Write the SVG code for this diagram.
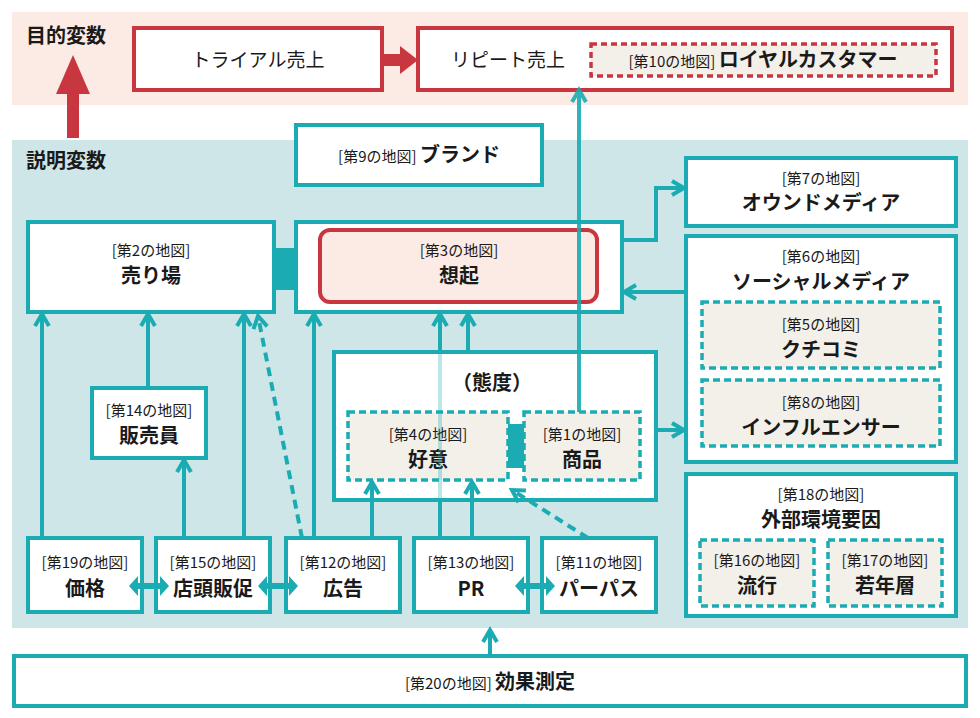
<svg xmlns="http://www.w3.org/2000/svg" width="980" height="718" viewBox="0 0 980 718">
<defs>
<style>
text{font-family:"Noto Sans CJK JP","Noto Sans",sans-serif;text-anchor:middle;fill:#1a1a1a}
.s{font-size:15px}
.b{font-size:20px;font-weight:bold}
.h{font-size:20px;font-weight:bold;text-anchor:start}
.n{fill:#fff;stroke:#1aacb2;stroke-width:4}
.d{fill:#f3f0ea;stroke:#1aacb2;stroke-width:3.5;stroke-dasharray:7 4}
.r{fill:#fff;stroke:#c8363f;stroke-width:4}
.c{fill:none;stroke:#1aacb2;stroke-width:4}
.cd{fill:none;stroke:#1aacb2;stroke-width:4;stroke-dasharray:9 6}
</style>
<marker id="a" viewBox="0 0 16 16" refX="14" refY="8" markerWidth="16" markerHeight="16" markerUnits="userSpaceOnUse" orient="auto" overflow="visible">
<path d="M2 1 L14 8 L2 15" fill="none" stroke="#1aacb2" stroke-width="4"/>
</marker>
<path id="dbl" d="M-20 0 L-11 -10 V-3 H11 V-10 L20 0 L11 10 V3 H-11 V10Z" fill="#1aacb2"/>
</defs>
<rect x="12" y="12" width="956" height="93" fill="#fcebe5"/>
<rect x="12" y="140" width="956" height="488" fill="#cfe6e8"/>
<text class="h" x="26" y="43">目的変数</text>
<text class="h" x="26" y="168">説明変数</text>
<g id="trial"><rect class="r" x="134" y="28" width="248" height="62"/><text x="258" y="67" style="font-size:19px">トライアル売上</text></g>
<g id="repeat"><rect class="r" x="418" y="28" width="534" height="62"/><text x="508" y="67" style="font-size:19px">リピート売上</text>
<rect x="591" y="44" width="345" height="32" fill="#f3f0ea" stroke="#c8363f" stroke-width="3.5" stroke-dasharray="6 4"/>
<text x="763" y="67"><tspan class="s">[第10の地図] </tspan><tspan class="b">ロイヤルカスタマー</tspan></text></g>
<g id="redarrows" fill="#c8363f">
<rect x="382" y="54" width="20" height="12"/><path d="M400 46 L418 60 L400 74Z"/>
<rect x="67" y="92" width="12" height="46"/><path d="M56 94 L73 55 L90 94Z"/>
</g>
<g id="brand"><rect class="n" x="296" y="125" width="246" height="60"/><text x="419" y="162"><tspan class="s">[第9の地図] </tspan><tspan class="b">ブランド</tspan></text></g>
<g id="owned"><rect class="n" x="686" y="158" width="270" height="68"/><text class="s" x="821" y="184">[第7の地図]</text><text class="b" x="821" y="210">オウンドメディア</text></g>
<g id="uriba"><rect class="n" x="28" y="222" width="246" height="90"/><text class="s" x="151" y="256">[第2の地図]</text><text class="b" x="151" y="283">売り場</text></g>
<g id="souki"><rect class="n" x="296" y="222" width="326" height="90"/><rect x="320" y="230" width="277" height="72" rx="10" fill="#fbebe4" stroke="#c8363f" stroke-width="4"/><text class="s" x="459" y="256">[第3の地図]</text><text class="b" x="459" y="283">想起</text></g>
<rect x="274" y="248" width="22" height="42" fill="#1aacb2"/>
<g id="social"><rect class="n" x="686" y="236" width="270" height="226"/><text class="s" x="821" y="262">[第6の地図]</text><text class="b" x="821" y="289">ソーシャルメディア</text>
<rect class="d" x="702" y="302" width="238" height="66"/><text class="s" x="821" y="330">[第5の地図]</text><text class="b" x="821" y="357">クチコミ</text>
<rect class="d" x="702" y="380" width="238" height="66"/><text class="s" x="821" y="408">[第8の地図]</text><text class="b" x="821" y="435">インフルエンサー</text></g>
<g id="taido"><rect class="n" x="334" y="352" width="322" height="148"/><text class="b" x="492" y="390">（態度）</text>
<rect class="d" x="348" y="412" width="160" height="68"/><text class="s" x="428" y="440">[第4の地図]</text><text class="b" x="428" y="467">好意</text>
<rect class="d" x="524" y="412" width="116" height="68"/><text class="s" x="582" y="440">[第1の地図]</text><text class="b" x="582" y="467">商品</text>
<rect x="508" y="424" width="16" height="44" fill="#1aacb2"/></g>
<g id="hanbai"><rect class="n" x="92" y="388" width="114" height="70"/><text class="s" x="149" y="416">[第14の地図]</text><text class="b" x="149" y="443">販売員</text></g>
<g id="kakaku"><rect class="n" x="28" y="538" width="114" height="74"/><text class="s" x="85" y="568">[第19の地図]</text><text class="b" x="85" y="596">価格</text></g>
<g id="tento"><rect class="n" x="156" y="538" width="114" height="74"/><text class="s" x="213" y="568">[第15の地図]</text><text class="b" x="213" y="596">店頭販促</text></g>
<g id="koukoku"><rect class="n" x="286" y="538" width="114" height="74"/><text class="s" x="343" y="568">[第12の地図]</text><text class="b" x="343" y="596">広告</text></g>
<g id="pr"><rect class="n" x="414" y="538" width="114" height="74"/><text class="s" x="471" y="568">[第13の地図]</text><text class="b" x="471" y="596">PR</text></g>
<g id="purpose"><rect class="n" x="542" y="538" width="114" height="74"/><text class="s" x="599" y="568">[第11の地図]</text><text class="b" x="599" y="596">パーパス</text></g>
<g id="gaibu"><rect class="n" x="686" y="474" width="270" height="142"/><text class="s" x="821" y="500">[第18の地図]</text><text class="b" x="821" y="527">外部環境要因</text>
<rect class="d" x="700" y="540" width="114" height="66"/><text class="s" x="757" y="566">[第16の地図]</text><text class="b" x="757" y="593">流行</text>
<rect class="d" x="828" y="540" width="114" height="66"/><text class="s" x="885" y="566">[第17の地図]</text><text class="b" x="885" y="593">若年層</text></g>
<g id="kouka"><rect class="n" x="14" y="656" width="952" height="50"/><text x="490" y="689"><tspan class="s">[第20の地図] </tspan><tspan class="b">効果測定</tspan></text></g>
<g id="connectors">
<path class="c" d="M579 412 V90" marker-end="url(#a)" opacity="0.9"/>
<path class="c" d="M622 240 H656 V188 H684" marker-end="url(#a)"/>
<path class="c" d="M686 292 H624" marker-end="url(#a)"/>
<path class="c" d="M656 430 H684" marker-end="url(#a)"/>
<path class="c" d="M42 538 V314" marker-end="url(#a)"/>
<path class="c" d="M148 388 V314" marker-end="url(#a)"/>
<path class="c" d="M184 538 V460" marker-end="url(#a)"/>
<path class="c" d="M244 538 V314" marker-end="url(#a)"/>
<path class="cd" d="M302 538 L258 316" marker-end="url(#a)"/>
<path class="c" d="M314 538 V314" marker-end="url(#a)"/>
<path class="c" d="M372 538 V482" marker-end="url(#a)"/>
<path class="c" d="M440 538 V500"/>
<path class="c" d="M440 500 V352" opacity="0.3"/>
<path class="c" d="M440 352 V314" marker-end="url(#a)"/>
<path class="c" d="M468 352 V314" marker-end="url(#a)"/>
<path class="c" d="M472 538 V482" marker-end="url(#a)"/>
<path class="cd" d="M588 538 L512 490" marker-end="url(#a)"/>
<path class="c" d="M490 656 V630" marker-end="url(#a)"/>
<use href="#dbl" x="149" y="586"/>
<use href="#dbl" x="278" y="586"/>
<use href="#dbl" x="535" y="586"/>
</g>
</svg>
